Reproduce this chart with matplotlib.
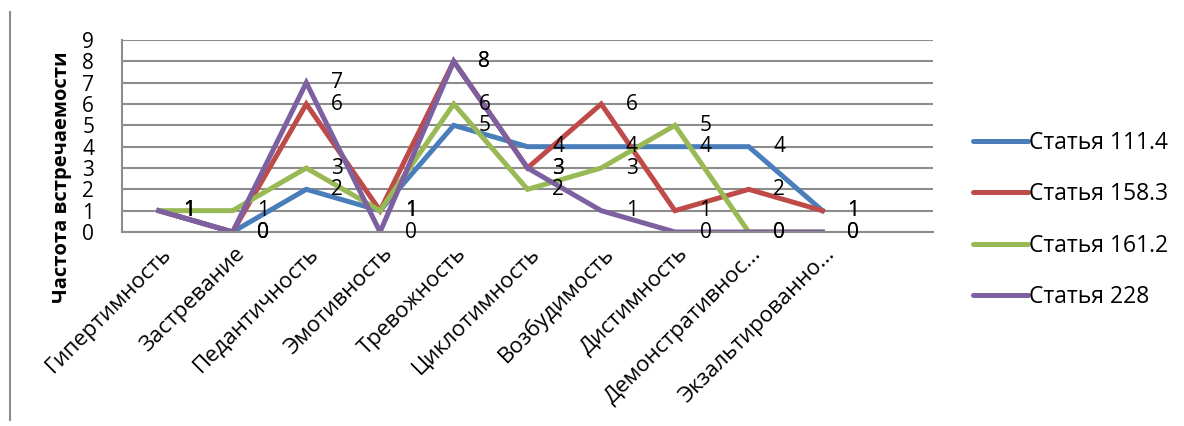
import numpy as np
import matplotlib.pyplot as plt
from matplotlib.lines import Line2D
from matplotlib.transforms import ScaledTranslation

plt.rcParams['font.family'] = ['Open Sans', 'DejaVu Sans']

categories = ['Гипертимность', 'Застревание', 'Педантичность', 'Эмотивность',
              'Тревожность', 'Циклотимность', 'Возбудимость', 'Дистимность',
              'Демонстративнос...', 'Экзальтированно...']

series_names = ['Статья 111.4', 'Статья 158.3', 'Статья 161.2', 'Статья 228']
s111 = [1, 0, 2, 1, 5, 4, 4, 4, 4, 1]
s158 = [1, 0, 6, 1, 8, 3, 6, 1, 2, 1]
s161 = [1, 1, 3, 1, 6, 2, 3, 5, 0, 0]
s228 = [1, 0, 7, 0, 8, 3, 1, 0, 0, 0]
colors = ['#4A7EBB', '#BE4B48', '#98B954', '#7D60A0']

fig = plt.figure(figsize=(11.84, 4.26), dpi=100)
ax = fig.add_axes([122 / 1184, 1 - 232 / 426, 811 / 1184, 192 / 426])

x = np.arange(len(categories))
for vals, name, c in zip([s111, s158, s161, s228], series_names, colors):
    ax.plot(x, vals, color=c, lw=3.6, label=name, solid_joinstyle='miter')
    for xi, v in zip(x, vals):
        ax.annotate(str(v), (xi, v), xytext=(22, 0), textcoords='offset points',
                    ha='center', va='center', fontsize=15, color='black')

ax.set_xlim(-0.5, len(categories) + 0.5)
ax.set_ylim(0, 9)
ax.set_yticks(range(10))
ax.set_yticklabels([str(i) for i in range(10)], fontsize=15)
ax.tick_params(axis='y', length=0, pad=20)
ax.set_xticks(x)
ax.set_xticklabels(categories, rotation=45, ha='right', va='top',
                   rotation_mode='anchor', fontsize=16)
ax.tick_params(axis='x', length=0, pad=8)
for lbl in ax.get_xticklabels():
    lbl.set_transform(lbl.get_transform() +
                      ScaledTranslation(2 / 100, 0, fig.dpi_scale_trans))

ax.grid(axis='y', color='#8C8C8C', lw=1.5)
ax.set_axisbelow(True)
for s in ['top', 'right']:
    ax.spines[s].set_visible(False)
for s in ['left', 'bottom']:
    ax.spines[s].set_color('#8C8C8C')
    ax.spines[s].set_linewidth(1.5)

fig.text(62 / 1184, 1 - 177 / 426, 'Частота встречаемости', rotation=90,
         ha='center', va='center', fontsize=14.5, fontweight='bold')

handles = [Line2D([], [], color=c, lw=3.6, solid_capstyle='round') for c in colors]
fig.legend(handles, series_names, loc='center left',
           bbox_to_anchor=(952 / 1184, 1 - 220 / 426), frameon=False,
           fontsize=16.5, handlelength=2.4, handletextpad=0.05, labelspacing=1.2)

fig.add_artist(Line2D([10 / 1184, 10 / 1184], [1 - 12 / 426, 1 - 420 / 426],
                      color='#8C8C8C', lw=1.5, transform=fig.transFigure))

fig.savefig('out.png', dpi=100)
